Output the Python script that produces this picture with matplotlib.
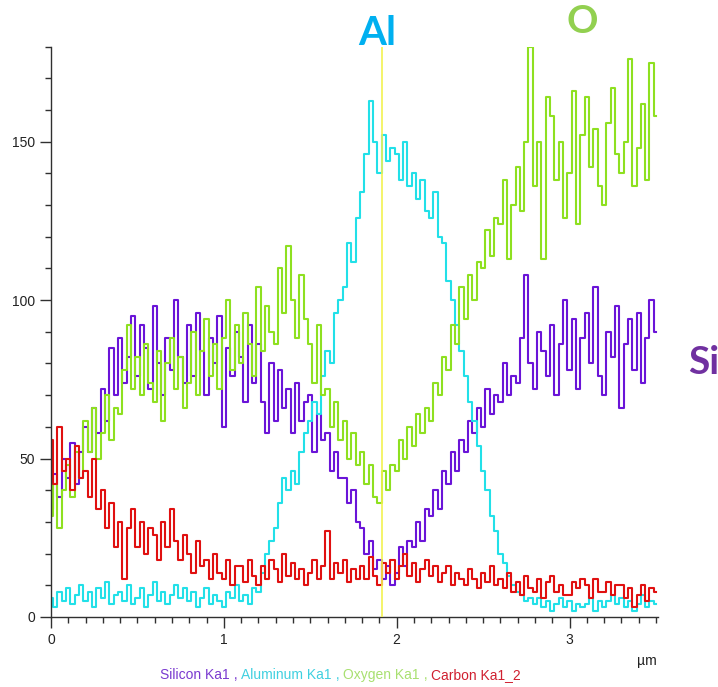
import numpy as np
import matplotlib
matplotlib.use("Agg")
import matplotlib.pyplot as plt
from matplotlib.ticker import MultipleLocator

# sampling grid (µm)
x_step = 0.025
n_samples = 141
x_um = np.arange(n_samples) * x_step

silicon = [
    34, 45, 38, 50,   44, 55, 42, 52,   60, 52, 66, 58,   72, 62, 85, 70,
    88, 74, 82, 95,   76, 92, 85, 72,   98, 80, 70, 88,   78, 100, 82, 74,
    92, 76, 96, 84,   70, 88, 80, 95,   60, 85, 76, 90,   82, 68, 92, 74,
    86, 68, 58, 80,   62, 78, 66, 72,   58, 74, 62, 68,   70, 52, 64, 56,
    58, 46, 52, 44,   44, 36, 40, 30,   28, 20, 24, 15,   18, 12, 16, 10,
    14, 22, 16, 24,   22, 30, 24, 34,   32, 40, 34, 46,   42, 52, 46, 56,
    52, 62, 58, 66,   60, 72, 64, 70,   68, 80, 70, 76,   74, 88, 108, 80,
    72, 90, 84, 76,   92, 70, 86, 100,  78, 94, 72, 88,   96, 80, 104, 76,
    70, 90, 82, 98,   66, 86, 94, 78,   96, 74, 88, 100,  90,
]

aluminum = [
    6, 3, 8, 5,       9, 4, 7, 10,      5, 8, 3, 9,       6, 11, 4, 7,
    8, 5, 10, 4,      6, 9, 3, 7,       11, 5, 8, 4,      7, 10, 6, 9,
    5, 8, 3, 6,       9, 4, 7, 5,       3, 8, 6, 10,      5, 7, 4, 9,
    8, 14, 20, 24,    28, 36, 44, 40,   46, 42, 52, 58,   62, 68, 64, 76,
    84, 80, 96, 100,  104, 118, 112, 126, 134, 146, 163, 150, 140, 152, 144, 148,
    146, 138, 150, 136, 140, 132, 138, 128, 126, 134, 120, 118, 106, 100, 92, 84,
    76, 68, 62, 54,   46, 40, 32, 27,   20, 17, 13, 10,   8, 7, 5, 6,
    4, 6, 3, 5,       2, 4, 6, 3,       5, 2, 4, 3,       4, 6, 2, 5,
    3, 5, 7, 4,       6, 3, 5, 2,       4, 7, 3, 5,       4,
]

oxygen = [
    32, 42, 28, 40,   48, 38, 52, 44,   62, 52, 66, 50,   58, 70, 56, 66,
    64, 78, 92, 72,   82, 70, 86, 74,   68, 84, 62, 80,   88, 72, 82, 66,
    74, 90, 70, 84,   94, 76, 86, 72,   88, 100, 78, 92,  80, 96, 86, 76,
    104, 84, 98, 90,  86, 110, 96, 117, 100, 88, 108, 94, 86, 74, 92, 70,
    72, 60, 68, 56,   62, 50, 58, 48,   52, 42, 48, 38,   36, 46, 40, 48,
    46, 56, 50, 60,   54, 64, 58, 66,   62, 74, 70, 82,   78, 92, 86, 104,
    94, 108, 100, 112, 110, 122, 114, 126, 124, 138, 113, 130, 142, 128, 150, 180,
    136, 150, 113, 164, 158, 138, 150, 126, 140, 166, 124, 152, 164, 142, 154, 136,
    130, 156, 167, 146, 140, 150, 176, 136, 148, 162, 138, 175, 158,
]

carbon = [
    56, 42, 60, 46,   50, 40, 54, 44,   46, 38, 50, 34,   40, 28, 36, 22,
    30, 12, 28, 34,   22, 30, 20, 28,   26, 18, 30, 22,   34, 24, 18, 26,
    20, 14, 24, 16,   18, 12, 20, 14,   12, 18, 10, 16,   16, 11, 18, 13,
    10, 16, 12, 18,   15, 11, 20, 13,   17, 12, 15, 10,   14, 18, 12, 16,
    27, 12, 17, 14,   18, 11, 15, 12,   16, 12, 19, 13,   10, 17, 14, 18,
    12, 16, 20, 13,   17, 11, 15, 18,   13, 16, 11, 14,   16, 10, 14, 12,
    10, 15, 12, 9,    14, 11, 16, 10,   12, 9, 14, 8,     11, 7, 13, 9,
    8, 12, 6, 11,     13, 8, 10, 7,     7, 11, 9, 12,     10, 6, 12, 8,
    8, 11, 7, 10,     10, 6, 9, 3,      7, 10, 5, 9,      8,
]

series_names = ["Silicon Ka1", "Aluminum Ka1", "Oxygen Ka1", "Carbon Ka1_2"]
series_colors = ["#6a14d8", "#22e0e8", "#8ee020", "#e01010"]
legend_colors = ["#7a3ad0", "#40d0e0", "#a8e070", "#d02030"]
marker_x = 1.913

fig = plt.figure(figsize=(7.18, 6.87), dpi=100)
ax = fig.add_axes([0.071, 0.102, 0.845, 0.83])

for vals, col in zip([silicon, aluminum, oxygen, carbon], series_colors):
    ax.plot(x_um, vals, drawstyle="steps-mid", color=col, lw=1.5)

ax.axvline(marker_x, color="#f2f250", lw=1.2, zorder=5)

ax.set_xlim(0, 3.51)
ax.set_ylim(0, 180)
for s in ["top", "right"]:
    ax.spines[s].set_visible(False)
for s in ["left", "bottom"]:
    ax.spines[s].set_color("#303030")
    ax.spines[s].set_linewidth(1.0)

ax.xaxis.set_major_locator(MultipleLocator(1))
ax.xaxis.set_minor_locator(MultipleLocator(0.1))
ax.yaxis.set_major_locator(MultipleLocator(50))
ax.yaxis.set_minor_locator(MultipleLocator(10))
ax.tick_params(which="major", length=8, width=1, color="#303030",
               labelsize=10, labelcolor="#222222")
ax.tick_params(which="minor", length=4, width=1, color="#303030")
ax.set_xticks([0, 1, 2, 3])
ax.set_yticks([0, 50, 100, 150])
for lab in ax.get_xticklabels() + ax.get_yticklabels():
    lab.set_fontfamily("Liberation Sans")

fig.text(0.915, 0.038, "µm", ha="right", va="center", fontsize=10,
         color="#222222", family="Liberation Sans")

# coloured footer legend
parts = []
for i, (name, c) in enumerate(zip(series_names, legend_colors)):
    parts.append((name, c))
    if i < len(series_names) - 1:
        parts.append((" , ", c))
prev = None
for txt, c in parts:
    if prev is None:
        prev = fig.text(0.223, 0.017, txt, color=c, fontsize=10,
                        family="Liberation Sans", ha="left", va="center")
    else:
        prev = ax.annotate(txt, xy=(1, 0), xycoords=prev, color=c, fontsize=10,
                           family="Liberation Sans", ha="left", va="bottom",
                           annotation_clip=False)

fig.text(0.526, 0.951, "Al", color="#00B0F0", fontsize=29, fontweight="bold",
         family="Lato", ha="center", va="center")
fig.text(0.811, 0.968, "O", color="#92D050", fontsize=28, fontweight="bold",
         family="Lato", ha="center", va="center")
fig.text(0.980, 0.473, "Si", color="#7030A0", fontsize=28, fontweight="bold",
         family="Lato", ha="center", va="center")

fig.savefig("out.png", dpi=100)
